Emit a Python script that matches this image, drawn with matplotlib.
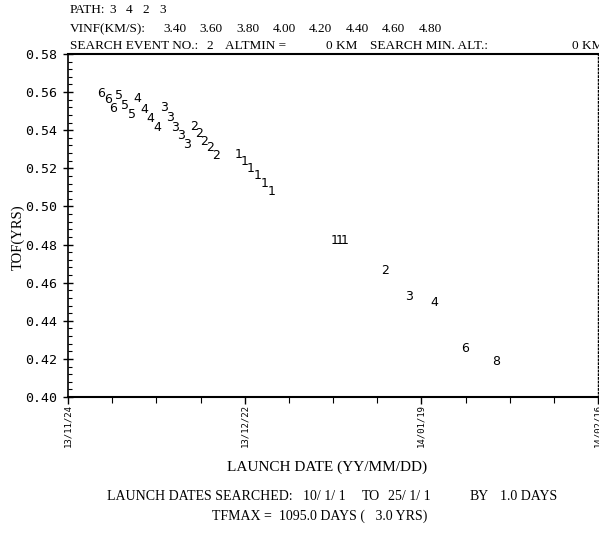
#!/usr/bin/env python3
# -*- coding: utf-8 -*-

import matplotlib
matplotlib.use("Agg")
import matplotlib.pyplot as plt
from matplotlib.ticker import MultipleLocator

# launch day counted from 13/11/24, time of flight in years, path label drawn at the point
launch_day = [5.2, 6.3, 7.2,
	8.1, 9.1, 10.2,
	11.0, 12.1, 13.1, 14.1,
	15.2, 16.1, 17.0, 17.9, 18.9,
	20.0, 20.8, 21.6, 22.5, 23.5,
	27.0, 28.0, 29.0, 30.0, 31.1, 32.2,
	42.2, 43.0, 43.8,
	50.2, 54.0, 58.0, 62.9, 67.8]
tof = [0.5594, 0.5559, 0.5515,
	0.5580, 0.5532, 0.5485,
	0.5568, 0.5511, 0.5463, 0.5414,
	0.5517, 0.5469, 0.5414, 0.5372, 0.5325,
	0.5417, 0.5383, 0.5341, 0.5307, 0.5267,
	0.5275, 0.5238, 0.5199, 0.5162, 0.5123, 0.5081,
	0.4823, 0.4823, 0.4823,
	0.4666, 0.4525, 0.4498, 0.4252, 0.4184]
path_label = ["6", "6", "6",
	"5", "5", "5",
	"4", "4", "4", "4",
	"3", "3", "3", "3", "3",
	"2", "2", "2", "2", "2",
	"1", "1", "1", "1", "1", "1",
	"1", "1", "1",
	"2", "3", "4", "6", "8"]

date_ticks = [0, 28, 56, 84]
date_labels = ["13/11/24", "13/12/22", "14/01/19", "14/02/16"]

path_nodes = ["3", "4", "2", "3"]
vinf = ["3.40", "3.60", "3.80", "4.00", "4.20", "4.40", "4.60", "4.80"]

serif = "Liberation Serif"
mono = "DejaVu Sans Mono"
W = 599.0
H = 534.0

def ftext(px, py, s, size=9.5, ha="left"):
	fig.text(px / W, 1 - py / H, s, family=serif, fontsize=size, va="center", ha=ha)

fig = plt.figure(figsize=(5.99, 5.34), dpi=100)
ax = fig.add_axes([68 / W, 1 - 397 / H, 530 / W, 343 / H])

for x, y, s in zip(launch_day, tof, path_label):
	ax.text(x, y, s, ha="center", va="center", fontsize=9, family="DejaVu Sans")

ax.set_xlim(0, 84)
ax.set_ylim(0.40, 0.58)
ax.set_xticks(date_ticks)
ax.set_xticklabels(date_labels, rotation=90, family=mono, fontsize=6.5)
ax.xaxis.set_minor_locator(MultipleLocator(7))
ax.yaxis.set_major_locator(MultipleLocator(0.02))
ax.yaxis.set_minor_locator(MultipleLocator(0.004))
ax.set_yticklabels(["%.2f" % v for v in ax.get_yticks()], family=mono, fontsize=9.5)
ax.tick_params(axis="y", which="major", direction="inout", length=7, width=1, pad=4)
ax.tick_params(axis="y", which="minor", direction="in", length=3, width=0.8)
ax.tick_params(axis="x", which="major", direction="out", length=5, width=1, pad=0)
ax.tick_params(axis="x", which="minor", direction="out", length=4, width=0.8)

ax.spines["top"].set_linewidth(1.5)
ax.spines["bottom"].set_linewidth(1.5)
ax.spines["left"].set_linewidth(1.2)
ax.spines["right"].set_linewidth(1.0)
ax.spines["right"].set_linestyle(":")

ax.set_xlabel("LAUNCH DATE (YY/MM/DD)", family=serif, fontsize=11)
ax.xaxis.set_label_coords(0.489, -70 / 343.0)
ax.xaxis.label.set_va("center")
ax.set_ylabel("TOF(YRS)", family=serif, fontsize=10.5)
ax.yaxis.set_label_coords(-50 / 530.0, 0.466)
ax.yaxis.label.set_va("center")

# header lines
ftext(70, 10, "PATH:")
for i, s in enumerate(path_nodes):
	ftext(113 + 16.5 * i, 10, s, ha="center")
ftext(70, 29, "VINF(KM/S):")
for i, s in enumerate(vinf):
	ftext(163 + 36.5 * i, 29, s)
ftext(70, 46, "SEARCH EVENT NO.:")
ftext(210, 46, "2", ha="center")
ftext(225, 46, "ALTMIN =")
ftext(326, 46, "0 KM")
ftext(370, 46, "SEARCH MIN. ALT.:")
ftext(572, 46, "0 KM")

# footer lines
ftext(107, 496, "LAUNCH DATES SEARCHED:", size=10)
ftext(303, 496, "10/ 1/ 1", size=10)
ftext(362, 496, "TO", size=10)
ftext(388, 496, "25/ 1/ 1", size=10)
ftext(470, 496, "BY", size=10)
ftext(500, 496, "1.0 DAYS", size=10)
ftext(320, 516, "TFMAX =  1095.0 DAYS (   3.0 YRS)", size=10, ha="center")

fig.savefig("out.png", dpi=100)
